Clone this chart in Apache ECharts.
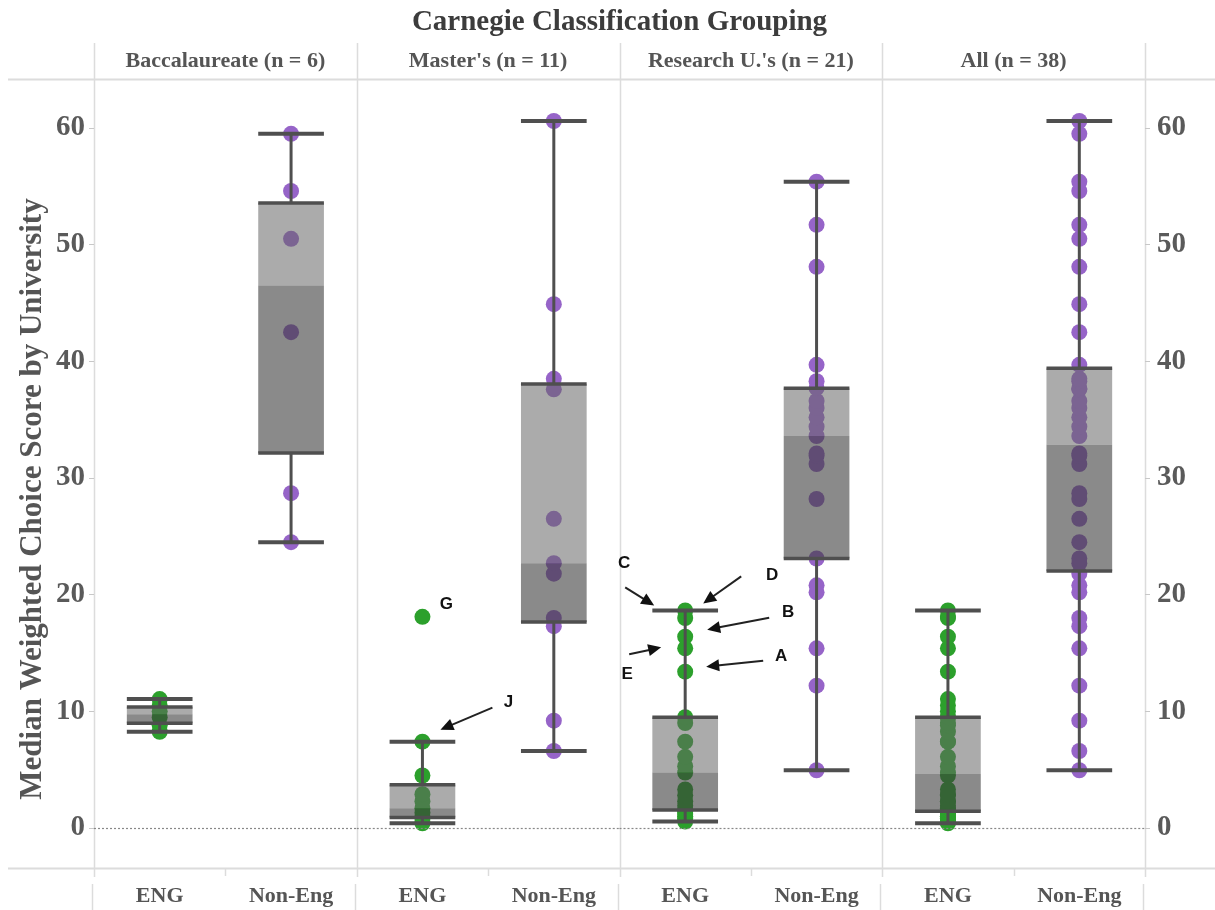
<!DOCTYPE html>
<html>
<head>
<meta charset="utf-8">
<script src="https://cdn.jsdelivr.net/npm/echarts@6/dist/echarts.min.js"></script>
<style>
  html, body { margin: 0; padding: 0; background: #ffffff; }
  #chart { width: 1215px; height: 910px; }
</style>
</head>
<body>
<div id="chart"></div>
<script>
// ---------------- DATA ----------------
const chartTitle = "Carnegie Classification Grouping";
const yAxisTitle = "Median Weighted Choice Score by University";
const panelNames = ["Baccalaureate (n = 6)", "Master's (n = 11)", "Research U.'s (n = 21)", "All (n = 38)"];
const groups = ["ENG", "Non-Eng"];
const yTicks = [0, 10, 20, 30, 40, 50, 60];

const baccEng = [8.25, 8.8, 9.5, 10.0, 10.5, 11.05];
const baccNonEng = [24.5, 28.7, 42.5, 50.5, 54.6, 59.5];

const mastersEng = [0.4, 0.5, 0.8, 1.0, 1.3, 1.7, 2.3, 2.9, 4.5, 7.4, 18.1];
const mastersNonEng = [6.6, 9.2, 17.3, 18.0, 21.8, 22.7, 26.5, 37.6, 38.5, 44.9, 60.6];

const researchEng = [0.55, 0.8, 1.0, 1.2, 1.4, 1.55, 1.9, 2.3, 2.8, 3.3, 4.75, 5.3, 6.1, 7.4, 9.0, 9.5, 13.4, 15.4, 16.4, 18.0, 18.65];
const researchNonEng = [4.95, 12.2, 15.4, 20.2, 20.8, 23.1, 28.2, 31.2, 31.9, 32.1, 33.6, 34.4, 35.2, 36.0, 36.6, 37.7, 38.3, 39.7, 48.1, 51.7, 55.4];

const allEng = [0.4, 0.5, 0.55, 0.8, 0.8, 1.0, 1.0, 1.2, 1.3, 1.4, 1.55, 1.7, 1.9, 2.3, 2.3, 2.8, 2.9, 3.3, 4.5, 4.75, 5.3, 6.1, 7.4, 7.4, 8.25, 8.8, 9.0, 9.5, 9.5, 10.0, 10.5, 11.05, 13.4, 15.4, 16.4, 18.0, 18.1, 18.65];
const allNonEng = [4.95, 6.6, 9.2, 12.2, 15.4, 17.3, 18.0, 20.2, 20.8, 21.8, 22.7, 23.1, 24.5, 26.5, 28.2, 28.7, 31.2, 31.9, 32.1, 33.6, 34.4, 35.2, 36.0, 36.6, 37.6, 37.7, 38.3, 38.5, 39.7, 42.5, 44.9, 48.1, 50.5, 51.7, 54.6, 55.4, 59.5, 60.6];

// annotation labels: label, panel index, group index, anchor value
const annotLabels = ["G", "J", "C", "D", "B", "E", "A"];
const annotPanels = [1, 1, 2, 2, 2, 2, 2];
const annotGroups = [0, 0, 0, 0, 0, 0, 0];
const annotValues = [18.1, 7.4, 18.65, 18.65, 16.4, 15.4, 13.4];

// ---------------- LAYOUT / STYLE ----------------
const panelData = [
  [baccEng, baccNonEng],
  [mastersEng, mastersNonEng],
  [researchEng, researchNonEng],
  [allEng, allNonEng]
];
const PLOT_LEFT = 94, PLOT_RIGHT = 1145, PLOT_TOP = 79, PLOT_BOTTOM = 868;
const PANEL_W = (PLOT_RIGHT - PLOT_LEFT) / 4;
const Y_MIN = -3.43, Y_MAX = 64.2;
const SERIF = '"Liberation Serif", "Times New Roman", serif';
const SANS = '"Liberation Sans", Arial, sans-serif';
const GROUP_COLORS = ['#2ca02c', '#9664c8'];
const GRID_LINE = '#dcdcdc';

// annotation geometry (pixel offsets from anchor): text, arrow tail, arrow tip
const annotGeom = {
  G: { text: [24, -13] },
  J: { text: [86, -39], tail: [70, -34], tip: [18, -12] },
  C: { text: [-61, -47], tail: [-60, -23], tip: [-31, -5] },
  D: { text: [87, -35], tail: [56, -34], tip: [18, -7] },
  B: { text: [103, -24], tail: [84, -19], tip: [22, -7] },
  E: { text: [-58, 26], tail: [-56, 6], tip: [-24, -1] },
  A: { text: [96, -15], tail: [78, -11], tip: [21, -5] }
};

// ---------------- STATS ----------------
function quantile(sorted, p) {
  const pos = (sorted.length - 1) * p;
  const lo = Math.floor(pos), hi = Math.ceil(pos);
  return sorted[lo] + (sorted[hi] - sorted[lo]) * (pos - lo);
}
function boxStats(values) {
  const s = values.slice().sort((a, b) => a - b);
  const q1 = quantile(s, 0.25), md = quantile(s, 0.5), q3 = quantile(s, 0.75);
  const iqr = q3 - q1;
  const inside = s.filter(v => v >= q1 - 1.5 * iqr && v <= q3 + 1.5 * iqr);
  return [inside[0], q1, md, q3, inside[inside.length - 1]];
}

function renderBox(params, api) {
  const x = api.value(0);
  const pLo = api.coord([x, api.value(1)]);
  const pQ1 = api.coord([x, api.value(2)]);
  const pMd = api.coord([x, api.value(3)]);
  const pQ3 = api.coord([x, api.value(4)]);
  const pHi = api.coord([x, api.value(5)]);
  const bw = api.size([1, 0])[0] * 0.5;
  const cx = pLo[0], hw = bw / 2;
  const dark = '#4f4f4f';
  const hline = (y, w) => ({ type: 'line', shape: { x1: cx - hw, y1: y, x2: cx + hw, y2: y }, style: { stroke: dark, lineWidth: w } });
  return {
    type: 'group',
    children: [
      { type: 'rect', shape: { x: cx - hw, y: pQ3[1], width: bw, height: pMd[1] - pQ3[1] }, style: { fill: 'rgba(100,100,100,0.54)' } },
      { type: 'rect', shape: { x: cx - hw, y: pMd[1], width: bw, height: pQ1[1] - pMd[1] }, style: { fill: 'rgba(60,60,60,0.6)' } },
      { type: 'line', shape: { x1: cx, y1: pQ3[1], x2: cx, y2: pHi[1] }, style: { stroke: dark, lineWidth: 3 } },
      { type: 'line', shape: { x1: cx, y1: pQ1[1], x2: cx, y2: pLo[1] }, style: { stroke: dark, lineWidth: 3 } },
      hline(pQ3[1], 3.5),
      hline(pQ1[1], 3.5),
      hline(pHi[1], 4),
      hline(pLo[1], 4)
    ]
  };
}

// ---------------- OPTION ----------------
const grids = [], xAxes = [], yAxes = [], series = [];
for (let p = 0; p < 4; p++) {
  grids.push({ left: PLOT_LEFT + p * PANEL_W, top: PLOT_TOP, width: PANEL_W, height: PLOT_BOTTOM - PLOT_TOP, show: false });
  xAxes.push({
    type: 'category', gridIndex: p, data: groups, boundaryGap: true,
    axisLine: { show: false }, axisTick: { show: false }, splitLine: { show: false },
    axisLabel: { margin: 17, fontFamily: SERIF, fontWeight: 'bold', fontSize: 22, color: '#555' }
  });
  const showLabels = (p === 0 || p === 3);
  yAxes.push({
    type: 'value', gridIndex: p, min: Y_MIN, max: Y_MAX,
    position: p === 3 ? 'right' : 'left',
    axisLine: { show: false },
    splitLine: { show: false },
    axisTick: { show: showLabels, length: 5, lineStyle: { color: '#c8c8c8' } },
    axisLabel: {
      show: showLabels, showMinLabel: false, showMaxLabel: false,
      margin: p === 3 ? 12 : 9,
      fontFamily: SERIF, fontWeight: 'bold', fontSize: 29, color: '#5a5a5a',
      formatter: v => (yTicks.indexOf(v) >= 0 ? String(v) : '')
    }
  });
  for (let g = 0; g < 2; g++) {
    series.push({
      type: 'scatter', xAxisIndex: p, yAxisIndex: p, z: 2,
      symbolSize: 16,
      itemStyle: { color: GROUP_COLORS[g], opacity: 1 },
      data: panelData[p][g].map(v => [g, v]),
      markLine: g === 0 ? {
        silent: true, symbol: 'none', label: { show: false },
        lineStyle: { type: [2, 2], color: '#888', width: 1.2 },
        data: [{ yAxis: 0 }]
      } : undefined
    });
  }
  series.push({
    type: 'custom', xAxisIndex: p, yAxisIndex: p, z: 3,
    renderItem: renderBox,
    encode: { x: 0, y: [1, 2, 3, 4, 5] },
    data: [0, 1].map(g => [g].concat(boxStats(panelData[p][g])))
  });
}

// static decorations
const staticGraphics = [];
function gLine(x1, y1, x2, y2, color, w) {
  return { type: 'line', silent: true, z: 0, shape: { x1, y1, x2, y2 }, style: { stroke: color, lineWidth: w } };
}
for (let i = 0; i <= 4; i++) {
  const x = Math.round(PLOT_LEFT + i * PANEL_W) + 0.5;
  staticGraphics.push(gLine(x, 43, x, 877, GRID_LINE, 1.5));
  staticGraphics.push(gLine(x - 2, 884, x - 2, 910, GRID_LINE, 1.5));
}
for (let i = 0; i < 4; i++) {
  const x = Math.round(PLOT_LEFT + i * PANEL_W + PANEL_W / 2) + 0.5;
  staticGraphics.push(gLine(x, 868, x, 876, GRID_LINE, 1.5));
}
staticGraphics.push(gLine(8, PLOT_TOP + 0.5, 1215, PLOT_TOP + 0.5, GRID_LINE, 2));
staticGraphics.push(gLine(8, PLOT_BOTTOM + 0.5, 1215, PLOT_BOTTOM + 0.5, GRID_LINE, 2));
staticGraphics.push({
  type: 'text', silent: true, x: (PLOT_LEFT + PLOT_RIGHT) / 2, y: 23,
  style: { text: chartTitle, font: 'bold 29px ' + SERIF, fill: '#3c3c3c', align: 'center', verticalAlign: 'middle' }
});
for (let p = 0; p < 4; p++) {
  staticGraphics.push({
    type: 'text', silent: true, x: PLOT_LEFT + p * PANEL_W + PANEL_W / 2, y: 61,
    style: { text: panelNames[p], font: 'bold 22px ' + SERIF, fill: '#555', align: 'center', verticalAlign: 'middle' }
  });
}
staticGraphics.push({
  type: 'text', silent: true, x: 33, y: 499, rotation: Math.PI / 2,
  style: { text: yAxisTitle, font: 'bold 31px ' + SERIF, fill: '#555', align: 'center', verticalAlign: 'middle' }
});

const chart = echarts.init(document.getElementById('chart'), null, { renderer: 'canvas' });
chart.setOption({
  backgroundColor: '#ffffff',
  animation: false,
  grid: grids, xAxis: xAxes, yAxis: yAxes, series: series,
  graphic: { elements: staticGraphics }
});

// annotations anchored to data positions
const annotGraphics = [];
for (let i = 0; i < annotLabels.length; i++) {
  const lab = annotLabels[i];
  const anchor = chart.convertToPixel({ xAxisIndex: annotPanels[i], yAxisIndex: annotPanels[i] }, [annotGroups[i], annotValues[i]]);
  const geo = annotGeom[lab];
  annotGraphics.push({
    type: 'text', silent: true, z: 10, x: anchor[0] + geo.text[0], y: anchor[1] + geo.text[1],
    style: { text: lab, font: 'bold 17px ' + SANS, fill: '#111', align: 'center', verticalAlign: 'middle' }
  });
  if (geo.tail) {
    const tx = anchor[0] + geo.tail[0], ty = anchor[1] + geo.tail[1];
    const hx = anchor[0] + geo.tip[0], hy = anchor[1] + geo.tip[1];
    const dx = hx - tx, dy = hy - ty, len = Math.sqrt(dx * dx + dy * dy);
    const ux = dx / len, uy = dy / len, nx = -uy, ny = ux;
    const L = 13, W = 6;
    const bx = hx - ux * L, by = hy - uy * L;
    annotGraphics.push({ type: 'line', silent: true, z: 10, shape: { x1: tx, y1: ty, x2: bx + ux * 2, y2: by + uy * 2 }, style: { stroke: '#222', lineWidth: 2 } });
    annotGraphics.push({
      type: 'polygon', silent: true, z: 10,
      shape: { points: [[hx, hy], [bx + nx * W, by + ny * W], [bx - nx * W, by - ny * W]] },
      style: { fill: '#111' }
    });
  }
}
chart.setOption({ graphic: { elements: staticGraphics.concat(annotGraphics) } });
</script>
</body>
</html>
